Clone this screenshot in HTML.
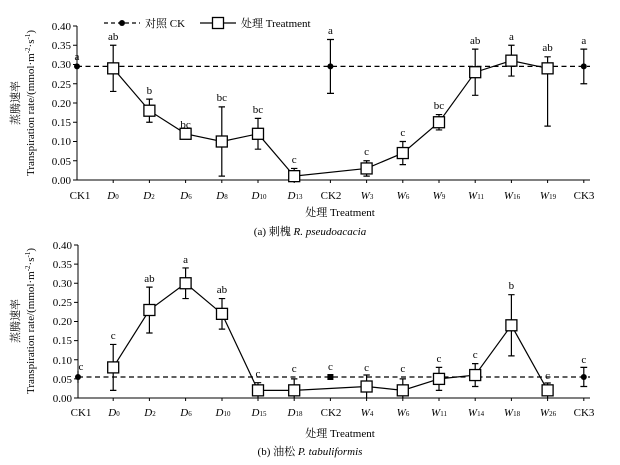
<!DOCTYPE html><html><head><meta charset="utf-8"><style>body{margin:0;background:#fff}svg{display:block}text{font-family:"Liberation Serif","Noto Serif CJK SC",serif;fill:#000}</style></head><body>
<svg width="620" height="465" xmlns="http://www.w3.org/2000/svg" font-size="11">
<defs><g id="sq"><rect x="-5.5" y="-5.5" width="11" height="11" fill="#fff" stroke="#000" stroke-width="1.3"/></g></defs>
<!-- Chart A -->
<g stroke="#000" stroke-width="1">
<line x1="77" y1="26" x2="77" y2="180"/><line x1="77" y1="180" x2="590" y2="180"/>
<path d="M73 26H77M73 45.25H77M73 64.5H77M73 83.75H77M73 103H77M73 122.25H77M73 141.5H77M73 160.75H77M73 180H77"/>
<path d="M113.2 180V183M149.4 180V183M185.6 180V183M221.8 180V183M258 180V183M294.2 180V183M330.4 180V183M366.6 180V183M402.8 180V183M439 180V183M475.2 180V183M511.4 180V183M547.6 180V183M583.8 180V183"/>
</g>
<g font-size="11" text-anchor="end"><text x="71" y="30">0.40</text><text x="71" y="49">0.35</text><text x="71" y="68">0.30</text><text x="71" y="88">0.25</text><text x="71" y="107">0.20</text><text x="71" y="126">0.15</text><text x="71" y="145">0.10</text><text x="71" y="165">0.05</text><text x="71" y="184">0.00</text></g>
<text transform="translate(19,103) rotate(-90)" text-anchor="middle" font-size="11">蒸腾速率</text>
<text transform="translate(34,103) rotate(-90)" text-anchor="middle" font-size="11">Transpiration rate/(mmol·m<tspan font-size="7" dy="-4">-2</tspan><tspan dy="4">·s</tspan><tspan font-size="7" dy="-4">-1</tspan><tspan dy="4">)</tspan></text>
<line x1="77" y1="66.4" x2="590" y2="66.4" stroke="#000" stroke-dasharray="5,3.5" stroke-width="1.2"/>
<g stroke="#000" stroke-width="1.2" fill="none">
<path d="M330.4 93.4V39.5M327 93.4H334M327 39.5H334M583.8 83.75V49.1M580.4 83.75H587.2M580.4 49.1H587.2"/>
<path d="M113.2 91.45V45.25M149.4 122.25V99.15M221.8 176.15V106.85M258 149.2V118.4M294.2 180V168.45M366.6 176.15V160.75M402.8 164.6V141.5M439 129.95V114.55M475.2 95.3V49.1M511.4 76.05V45.25M547.6 126.1V56.8"/>
<path d="M110 45.25H116.4M146.2 122.25H152.6M146.2 99.15H152.6M218.6 176.15H225M218.6 106.85H225M254.8 149.2H261.2M254.8 118.4H261.2M291 168.45H297.4M363.4 176.15H369.8M363.4 160.75H369.8M399.6 164.6H406M399.6 141.5H406M435.8 129.95H442.2M435.8 114.55H442.2M472 95.3H478.4M472 49.1H478.4M508.2 76.05H514.6M508.2 45.25H514.6M544.4 126.1H550.8M544.4 56.8H550.8M110 91.45H116.4"/>
<polyline points="113.2,68.35 149.4,110.7 185.6,133.8 221.8,141.5 258,133.8 294.2,176.15 366.6,168.45 402.8,153.05 439,122.25 475.2,72.2 511.4,60.65 547.6,68.35"/>
</g>
<g fill="#000"><circle cx="77" cy="66.4" r="3"/><circle cx="330.4" cy="66.4" r="3"/><circle cx="583.8" cy="66.4" r="3"/></g>
<use href="#sq" x="113.2" y="68.35"/><use href="#sq" x="149.4" y="110.7"/><use href="#sq" x="185.6" y="133.8"/><use href="#sq" x="221.8" y="141.5"/><use href="#sq" x="258" y="133.8"/><use href="#sq" x="294.2" y="176.15"/><use href="#sq" x="366.6" y="168.45"/><use href="#sq" x="402.8" y="153.05"/><use href="#sq" x="439" y="122.25"/><use href="#sq" x="475.2" y="72.2"/><use href="#sq" x="511.4" y="60.65"/><use href="#sq" x="547.6" y="68.35"/>
<g text-anchor="middle" font-size="11">
<text x="77" y="60">a</text><text x="113.2" y="40">ab</text><text x="149.4" y="94">b</text><text x="185.6" y="128">bc</text><text x="221.8" y="101">bc</text><text x="258" y="113">bc</text><text x="294.2" y="163">c</text><text x="330.4" y="34">a</text><text x="366.6" y="155">c</text><text x="402.8" y="136">c</text><text x="439" y="109">bc</text><text x="475.2" y="44">ab</text><text x="511.4" y="40">a</text><text x="547.6" y="51">ab</text><text x="583.8" y="44">a</text>
</g>
<g text-anchor="middle" font-size="11">
<text x="80" y="199">CK1</text><text x="113" y="199"><tspan font-style="italic">D</tspan><tspan font-size="7">0</tspan></text><text x="149" y="199"><tspan font-style="italic">D</tspan><tspan font-size="7">2</tspan></text><text x="186" y="199"><tspan font-style="italic">D</tspan><tspan font-size="7">6</tspan></text><text x="222" y="199"><tspan font-style="italic">D</tspan><tspan font-size="7">8</tspan></text><text x="259" y="199"><tspan font-style="italic">D</tspan><tspan font-size="7">10</tspan></text><text x="295" y="199"><tspan font-style="italic">D</tspan><tspan font-size="7">13</tspan></text><text x="331" y="199">CK2</text><text x="367" y="199"><tspan font-style="italic">W</tspan><tspan font-size="7">3</tspan></text><text x="403" y="199"><tspan font-style="italic">W</tspan><tspan font-size="7">6</tspan></text><text x="439" y="199"><tspan font-style="italic">W</tspan><tspan font-size="7">9</tspan></text><text x="476" y="199"><tspan font-style="italic">W</tspan><tspan font-size="7">11</tspan></text><text x="512" y="199"><tspan font-style="italic">W</tspan><tspan font-size="7">16</tspan></text><text x="548" y="199"><tspan font-style="italic">W</tspan><tspan font-size="7">19</tspan></text><text x="584" y="199">CK3</text>
<text x="340" y="216">处理 Treatment</text>
<text x="310" y="235">(a) 刺槐 <tspan font-style="italic">R. pseudoacacia</tspan></text>
</g>
<!-- Legend -->
<line x1="104" y1="23" x2="140" y2="23" stroke="#000" stroke-dasharray="4,3" stroke-width="1.2"/><circle cx="122" cy="23" r="3" fill="#000"/>
<text x="145" y="27" font-size="11">对照 CK</text>
<line x1="200" y1="23" x2="236" y2="23" stroke="#000" stroke-width="1.2"/><use href="#sq" x="218" y="23"/>
<text x="241" y="27" font-size="11">处理 Treatment</text>
<!-- Chart B -->
<g stroke="#000" stroke-width="1">
<line x1="78" y1="245" x2="78" y2="398"/><line x1="78" y1="398" x2="590" y2="398"/>
<path d="M74 245H78M74 264.1H78M74 283.25H78M74 302.4H78M74 321.5H78M74 340.6H78M74 359.75H78M74 378.9H78M74 398H78"/>
<path d="M113.2 398V401M149.4 398V401M185.6 398V401M222 398V401M258 398V401M294.2 398V401M330.4 398V401M366.6 398V401M402.8 398V401M439 398V401M475.2 398V401M511.4 398V401M547.6 398V401M583.8 398V401"/>
</g>
<g font-size="11" text-anchor="end"><text x="72" y="249">0.40</text><text x="72" y="268">0.35</text><text x="72" y="287">0.30</text><text x="72" y="306">0.25</text><text x="72" y="325">0.20</text><text x="72" y="344">0.15</text><text x="72" y="364">0.10</text><text x="72" y="383">0.05</text><text x="72" y="402">0.00</text></g>
<text transform="translate(19,321) rotate(-90)" text-anchor="middle" font-size="11">蒸腾速率</text>
<text transform="translate(34,321) rotate(-90)" text-anchor="middle" font-size="11">Transpiration rate/(mmol·m<tspan font-size="7" dy="-4">-2</tspan><tspan dy="4">·s</tspan><tspan font-size="7" dy="-4">-1</tspan><tspan dy="4">)</tspan></text>
<line x1="78" y1="377" x2="590" y2="377" stroke="#000" stroke-dasharray="5,3.5" stroke-width="1.2"/>
<g stroke="#000" stroke-width="1.2" fill="none">
<path d="M78 371V383M583.8 386.5V367.4M580.4 386.5H587.2M580.4 367.4H587.2M330.4 379V375"/>
<path d="M113.2 390.35V344.45M149.4 333V287.1M185.6 298.55V267.95M222 329.15V298.55M258 398V382.7M294.2 398V378.9M366.6 398V375M402.8 398V378.9M439 390.35V367.4M475.2 386.5V363.6M511.4 355.9V294.7M547.6 398V383"/>
<path d="M110 390.35H116.4M110 344.45H116.4M146.2 333H152.6M146.2 287.1H152.6M182.4 298.55H188.8M182.4 267.95H188.8M218.8 329.15H225.2M218.8 298.55H225.2M254.8 382.7H261.2M291 378.9H297.4M363.4 375H369.8M399.6 378.9H406M435.8 390.35H442.2M435.8 367.4H442.2M472 386.5H478.4M472 363.6H478.4M508.2 355.9H514.6M508.2 294.7H514.6M544.4 383H550.8"/>
<polyline points="113.2,367.4 149.4,310 185.6,283.25 222,313.85 258,390.35 294.2,390.35 366.6,386.5 402.8,390.35 439,378.9 475.2,375.05 511.4,325.3 547.6,390.35"/>
</g>
<g fill="#000"><circle cx="78" cy="377" r="3"/><rect x="327.4" y="374" width="6" height="6"/><circle cx="583.8" cy="377" r="3"/></g>
<use href="#sq" x="113.2" y="367.4"/><use href="#sq" x="149.4" y="310"/><use href="#sq" x="185.6" y="283.25"/><use href="#sq" x="222" y="313.85"/><use href="#sq" x="258" y="390.35"/><use href="#sq" x="294.2" y="390.35"/><use href="#sq" x="366.6" y="386.5"/><use href="#sq" x="402.8" y="390.35"/><use href="#sq" x="439" y="378.9"/><use href="#sq" x="475.2" y="375.05"/><use href="#sq" x="511.4" y="325.3"/><use href="#sq" x="547.6" y="390.35"/>
<g text-anchor="middle" font-size="11">
<text x="81" y="370">c</text><text x="113.2" y="339">c</text><text x="149.4" y="282">ab</text><text x="185.6" y="263">a</text><text x="222" y="293">ab</text><text x="258" y="377">c</text><text x="294.2" y="372">c</text><text x="330.4" y="370">c</text><text x="366.6" y="371">c</text><text x="402.8" y="372">c</text><text x="439" y="362">c</text><text x="475.2" y="358">c</text><text x="511.4" y="289">b</text><text x="547.6" y="379">c</text><text x="583.8" y="363">c</text>
</g>
<g text-anchor="middle" font-size="11">
<text x="81" y="416">CK1</text><text x="114" y="416"><tspan font-style="italic">D</tspan><tspan font-size="7">0</tspan></text><text x="150" y="416"><tspan font-style="italic">D</tspan><tspan font-size="7">2</tspan></text><text x="186" y="416"><tspan font-style="italic">D</tspan><tspan font-size="7">6</tspan></text><text x="223" y="416"><tspan font-style="italic">D</tspan><tspan font-size="7">10</tspan></text><text x="259" y="416"><tspan font-style="italic">D</tspan><tspan font-size="7">15</tspan></text><text x="295" y="416"><tspan font-style="italic">D</tspan><tspan font-size="7">18</tspan></text><text x="331" y="416">CK2</text><text x="367" y="416"><tspan font-style="italic">W</tspan><tspan font-size="7">4</tspan></text><text x="403" y="416"><tspan font-style="italic">W</tspan><tspan font-size="7">6</tspan></text><text x="439" y="416"><tspan font-style="italic">W</tspan><tspan font-size="7">11</tspan></text><text x="476" y="416"><tspan font-style="italic">W</tspan><tspan font-size="7">14</tspan></text><text x="512" y="416"><tspan font-style="italic">W</tspan><tspan font-size="7">18</tspan></text><text x="548" y="416"><tspan font-style="italic">W</tspan><tspan font-size="7">26</tspan></text><text x="584" y="416">CK3</text>
<text x="340" y="437">处理 Treatment</text>
<text x="310" y="455">(b) 油松 <tspan font-style="italic">P. tabuliformis</tspan></text>
</g>
</svg>
</body></html>
